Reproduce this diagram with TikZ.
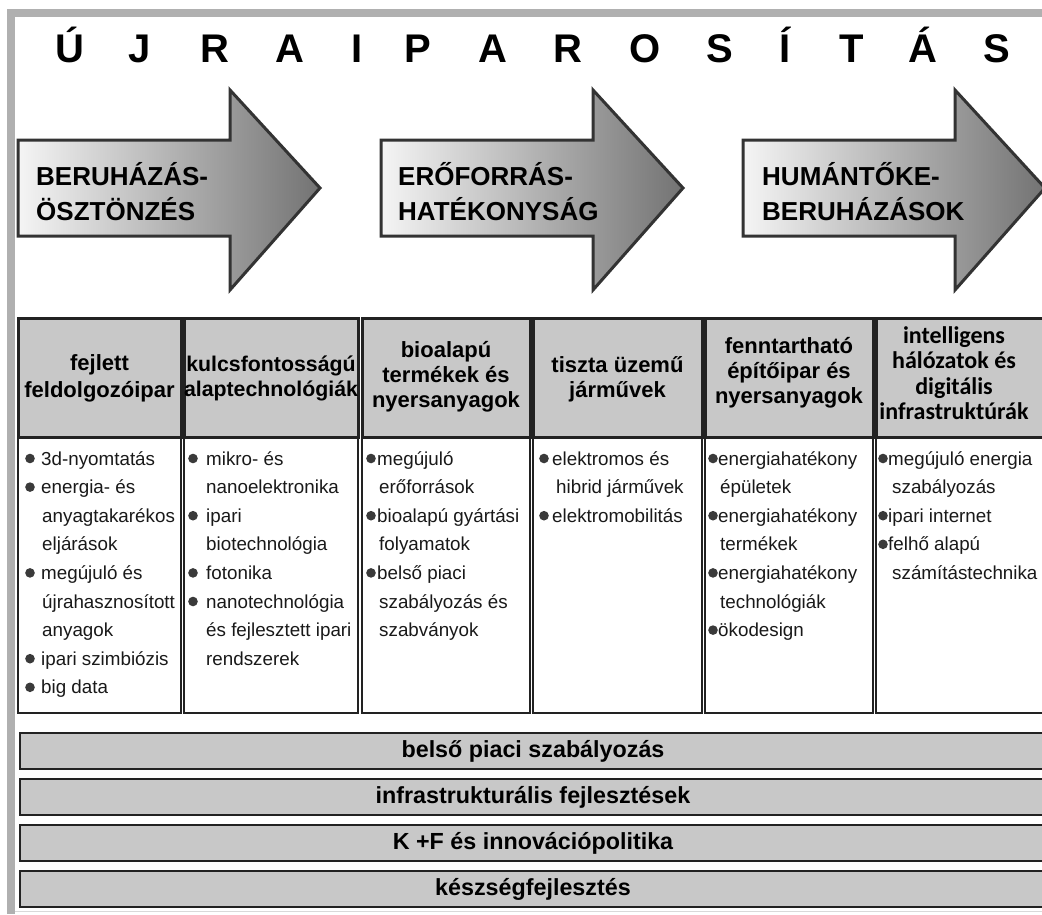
\documentclass[tikz,border=0pt]{standalone}
\usepackage{fontspec}
\setmainfont{Liberation Sans}
\newfontfamily\calsans{Carlito}

\definecolor{framegray}{HTML}{B0B0B0}
\definecolor{boxgray}{HTML}{C8C8C8}
\definecolor{edgedark}{HTML}{222222}
\definecolor{dotgray}{HTML}{3A3A3A}

\tikzset{
	hdrbox/.style={draw=edgedark, line width=3pt, fill=boxgray},
	hdrtxt/.style={align=center, inner sep=0pt, font=\fontsize{22}{25}\selectfont\bfseries},
	bodybox/.style={draw=edgedark, line width=1.6pt, fill=white},
	barbox/.style={draw=edgedark, line width=2.5pt, fill=boxgray, inner sep=0pt,
		minimum width=1026, minimum height=36,
		font=\fontsize{23.3}{26}\selectfont\bfseries},
	bigarrow/.style={draw=black!80, line width=3pt, line join=miter,
		left color=white!96!black, right color=black!55},
	arrowtxt/.style={anchor=base west, inner sep=0pt, align=left,
		font=\fontsize{26}{35}\selectfont\bfseries},
	itemtxt/.style={anchor=base west, inner sep=0pt, text=black!90,
		font=\fontsize{18.8}{22}\selectfont},
	titletxt/.style={anchor=base, inner sep=0pt, font=\fontsize{40}{48}\selectfont\bfseries}
}

% #1 name, #2 left edge, #3 bullet dx, #4 text dx, #5 next-line dx, #6 lines
\newcommand{\itemcol}[6]{%
	\foreach \b/\txt [count=\i] in {#6} {
		\pgfmathsetmacro{\yb}{465+28.6*(\i-1)}
		\ifnum\b=1
			\fill[dotgray] (#2+#3,\yb-6.5) circle (4.8pt);
			\node[itemtxt] (#1i\i) at (#2+#4,\yb) {\txt};
		\else
			\node[itemtxt] (#1i\i) at (#2+#5,\yb) {\txt};
		\fi
	}}

\begin{document}
\begin{tikzpicture}[x=1pt,y=-1pt]
	\useasboundingbox (0,0) rectangle (1042,914);
	\clip (0,0) rectangle (1042,914);
	\fill[white] (0,0) rectangle (1042,914);
	% frame
	\fill[framegray] (7,9) rectangle (1042,17);
	\fill[framegray] (7,9) rectangle (15,914);
	\draw[black!15, line width=1.5pt] (15,911.5) -- (1042,911.5);

	% title
	\foreach \ch/\xx [count=\k] in {Ú/70, J/140, R/215, A/290, I/357, P/418, A/493,
		R/568, O/645, S/720, Í/785, T/852, Á/923, S/997}
		\node[titletxt] (t\k) at (\xx,62) {\ch};

	% arrows
	\foreach \dx in {0, 363, 725}
		\draw[bigarrow] (18+\dx,140) -- (230+\dx,140) -- (230+\dx,90) -- (320+\dx,188)
			-- (230+\dx,290) -- (230+\dx,236) -- (18+\dx,236) -- cycle;
	\node[arrowtxt] (a1) at (36,220) {BERUHÁZÁS-\\ÖSZTÖNZÉS};
	\node[arrowtxt] (a2) at (398,220) {ERŐFORRÁS-\\HATÉKONYSÁG};
	\node[arrowtxt] (a3) at (762,220) {HUMÁNTŐKE-\\BERUHÁZÁSOK};

	% columns
	\foreach \l/\r in {18/181, 184/358, 362/530, 533/702, 705/873, 876/1046} {
		\draw[bodybox] (\l,437) rectangle (\r,713);
		\draw[hdrbox] (\l,318) rectangle (\r,437);
	}
	\node[hdrtxt, font=\fontsize{22}{27}\selectfont\bfseries] (h1) at (99.5,378)
		{fejlett\\feldolgozóipar};
	\node[hdrtxt, font=\fontsize{21.3}{25}\selectfont\bfseries] (h2) at (271,378)
		{kulcsfontosságú\\alaptechnológiák};
	\node[hdrtxt] (h3) at (446,377)
		{bioalapú\\termékek és\\nyersanyagok};
	\node[hdrtxt] (h4) at (617.5,379)
		{tiszta üzemű\\járművek};
	\node[hdrtxt] (h5) at (789,373)
		{fenntartható\\építőipar és\\nyersanyagok};
	\node[hdrtxt, font=\calsans\fontsize{24}{25.5}\selectfont\bfseries] (h6) at (954,373)
		{intelligens\\hálózatok és\\digitális\\infrastruktúrák};

	\itemcol{c1}{18}{12}{23}{24}{1/3d-nyomtatás, 1/energia- és, 0/anyagtakarékos,
		0/eljárások, 1/megújuló és, 0/újrahasznosított, 0/anyagok,
		1/ipari szimbiózis, 1/big data}
	\itemcol{c2}{184}{9}{22}{22}{1/mikro- és, 0/nanoelektronika, 1/ipari,
		0/biotechnológia, 1/fotonika, 1/nanotechnológia, 0/és fejlesztett ipari,
		0/rendszerek}
	\itemcol{c3}{362}{9}{15}{17}{1/megújuló, 0/erőforrások, 1/bioalapú gyártási,
		0/folyamatok, 1/belső piaci, 0/szabályozás és, 0/szabványok}
	\itemcol{c4}{533}{11}{19}{23}{1/elektromos és, 0/hibrid járművek,
		1/elektromobilitás}
	\itemcol{c5}{705}{8}{13}{15}{1/energiahatékony, 0/épületek, 1/energiahatékony,
		0/termékek, 1/energiahatékony, 0/technológiák, 1/ökodesign}
	\itemcol{c6}{876}{7}{12}{16}{1/megújuló energia, 0/szabályozás,
		1/ipari internet, 1/felhő alapú, 0/számítástechnika}

	% bottom bars
	\foreach \yt/\txt [count=\k] in {733/belső piaci szabályozás,
		779/infrastrukturális fejlesztések, 825/K +F és innovációpolitika,
		871/készségfejlesztés}
		\node[barbox] (bar\k) at (533,\yt+18) {\txt};
\end{tikzpicture}
\end{document}
